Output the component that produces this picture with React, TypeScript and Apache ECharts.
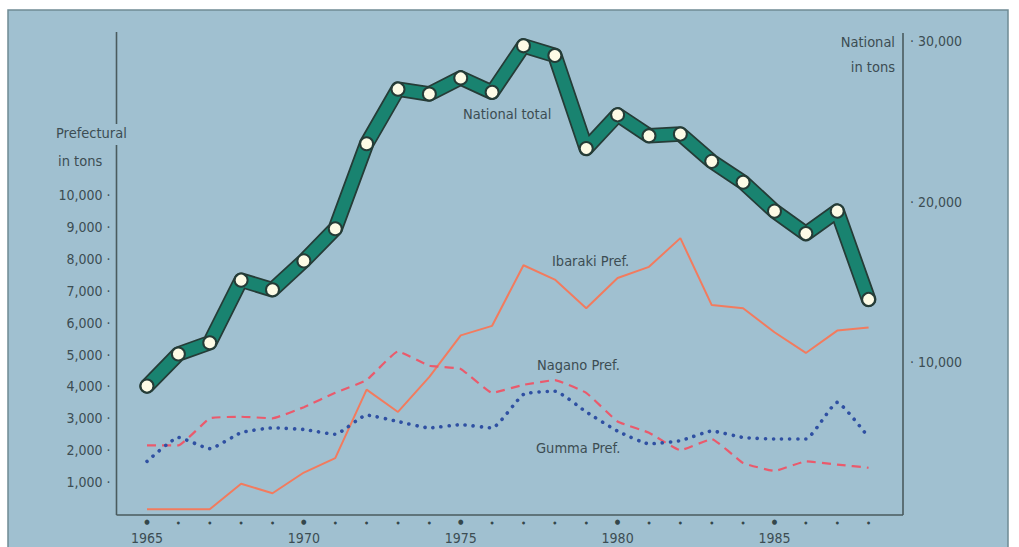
import React, { useEffect, useRef } from "react";
import * as echarts from "echarts";

const years = [1965, 1966, 1967, 1968, 1969, 1970, 1971, 1972, 1973, 1974, 1975, 1976, 1977, 1978, 1979, 1980, 1981, 1982, 1983, 1984, 1985, 1986, 1987, 1988];
const nationalTotal = [8500, 10500, 11200, 15100, 14500, 16300, 18300, 23600, 27000, 26700, 27700, 26800, 29700, 29100, 23300, 25400, 24100, 24200, 22500, 21200, 19400, 18000, 19400, 13900];
const ibaraki = [150, 150, 150, 950, 650, 1300, 1750, 3900, 3200, 4300, 5600, 5900, 7800, 7350, 6450, 7400, 7750, 8650, 6550, 6450, 5700, 5050, 5750, 5850];
const nagano = [2150, 2150, 3000, 3050, 3000, 3350, 3800, 4200, 5100, 4650, 4550, 3800, 4050, 4200, 3800, 2900, 2550, 2000, 2350, 1600, 1350, 1650, 1550, 1450];
const gumma = [1650, 2400, 2050, 2550, 2700, 2650, 2500, 3100, 2900, 2700, 2800, 2700, 3750, 3850, 3200, 2600, 2200, 2300, 2600, 2400, 2350, 2350, 3500, 2400];
const leftTicks = [1000, 2000, 3000, 4000, 5000, 6000, 7000, 8000, 9000, 10000];
const rightTicks = [10000, 20000, 30000];
const labeledYears = [1965, 1970, 1975, 1980, 1985];

const FONT = "'Liberation Sans Narrow', 'DejaVu Sans Condensed', 'Roboto Condensed', Roboto, sans-serif";
const TEXT = "#3c4d53";
const AXIS = "#4a5b5e";

const pair = (vals: number[]) => years.map((y, i) => [y, vals[i]]);
const fmt = (v: number) => v.toLocaleString("en-US");

export default function App() {
  const ref = useRef<HTMLDivElement>(null);
  useEffect(() => {
    document.body.style.margin = "0";
    const chart = echarts.init(ref.current!, undefined, { renderer: "svg" });
    const xCommon = {
      type: "value" as const,
      min: 1965,
      max: 1988,
      interval: 1,
      axisLine: { show: false },
      axisTick: { show: false },
      splitLine: { show: false },
    };
    const txt = (text: string, x: number, y: number, align: string = "left") => ({
      type: "text",
      x,
      y,
      style: { text, fill: TEXT, fontSize: 14.5, fontFamily: FONT, align, verticalAlign: "middle" },
    });
    chart.setOption({
      animation: false,
      backgroundColor: "#ffffff",
      grid: [
        { left: 147, right: 150.4, top: 67.5, bottom: 33 },
        { left: 147, right: 150.4, top: 41, bottom: 24.5 },
      ],
      xAxis: [
        {
          ...xCommon,
          gridIndex: 0,
          axisLabel: {
            margin: 3,
            formatter: (v: number) =>
              labeledYears.includes(v) ? `{b|●}\n{y|${v}}` : `{s|●}`,
            rich: {
              b: { fontSize: 7, lineHeight: 10, color: "#34474b", fontFamily: FONT },
              s: { fontSize: 4, lineHeight: 10, color: "#34474b", fontFamily: FONT },
              y: { fontSize: 14, lineHeight: 21, color: TEXT, fontFamily: FONT },
            },
          },
        },
        { ...xCommon, gridIndex: 1, axisLabel: { show: false } },
      ],
      yAxis: [
        {
          type: "value",
          gridIndex: 0,
          position: "left",
          offset: 30.5,
          min: 0,
          max: 14000,
          interval: 1000,
          axisLine: { show: false },
          axisTick: { show: false },
          splitLine: { show: false },
          axisLabel: {
            margin: 6,
            color: TEXT,
            fontSize: 14,
            fontFamily: FONT,
            formatter: (v: number) => (leftTicks.includes(v) ? `${fmt(v)} ·` : ""),
          },
        },
        {
          type: "value",
          gridIndex: 1,
          position: "right",
          offset: 34.4,
          min: 0,
          max: 30000,
          interval: 10000,
          axisLine: { show: false },
          axisTick: { show: false },
          splitLine: { show: false },
          axisLabel: {
            margin: 7,
            color: TEXT,
            fontSize: 14,
            fontFamily: FONT,
            formatter: (v: number) => (rightTicks.includes(v) ? `· ${fmt(v)}` : ""),
          },
        },
      ],
      graphic: [
        { type: "rect", z: -10, shape: { x: 8, y: 10, width: 1000, height: 545 }, style: { fill: "#a0c0d0", stroke: "#6f8a94", lineWidth: 1.5 } },
        { type: "line", shape: { x1: 116.5, y1: 32, x2: 116.5, y2: 124 }, style: { stroke: AXIS, lineWidth: 1.6 } },
        { type: "line", shape: { x1: 116.5, y1: 145, x2: 116.5, y2: 515 }, style: { stroke: AXIS, lineWidth: 1.6 } },
        { type: "line", shape: { x1: 116.5, y1: 515, x2: 903, y2: 515 }, style: { stroke: AXIS, lineWidth: 1.6 } },
        { type: "line", shape: { x1: 903, y1: 33, x2: 903, y2: 515 }, style: { stroke: AXIS, lineWidth: 1.6 } },
        txt("Prefectural", 56, 133),
        txt("in tons", 58, 161),
        txt("National", 895, 42, "right"),
        txt("in tons", 895, 67, "right"),
        txt("National total", 463, 114),
        txt("Ibaraki Pref.", 552, 261),
        txt("Nagano Pref.", 537, 365),
        txt("Gumma Pref.", 536, 448),
      ],
      series: [
        {
          name: "Ibaraki Pref.",
          type: "line",
          xAxisIndex: 0,
          yAxisIndex: 0,
          data: pair(ibaraki),
          showSymbol: false,
          lineStyle: { color: "#f27b5e", width: 2 },
        },
        {
          name: "Nagano Pref.",
          type: "line",
          xAxisIndex: 0,
          yAxisIndex: 0,
          data: pair(nagano),
          showSymbol: false,
          smooth: 0.1,
          lineStyle: { color: "#ea5a6c", width: 2.2, type: [9, 6] },
        },
        {
          name: "Gumma Pref.",
          type: "line",
          xAxisIndex: 0,
          yAxisIndex: 0,
          data: pair(gumma),
          showSymbol: false,
          smooth: 0.15,
          lineStyle: { color: "#2f50a2", width: 3.6, type: [0.1, 8], cap: "round" },
        },
        {
          name: "National total outline",
          type: "line",
          xAxisIndex: 1,
          yAxisIndex: 1,
          data: pair(nationalTotal),
          showSymbol: false,
          silent: true,
          lineStyle: { color: "#253c37", width: 15.5, join: "round", cap: "round" },
        },
        {
          name: "National total",
          type: "line",
          xAxisIndex: 1,
          yAxisIndex: 1,
          data: pair(nationalTotal),
          symbol: "circle",
          symbolSize: 13,
          showSymbol: true,
          itemStyle: { color: "#fdfbe6", borderColor: "#253c37", borderWidth: 2 },
          lineStyle: { color: "#198370", width: 12, join: "round", cap: "round" },
        },
      ],
    });
    return () => chart.dispose();
  }, []);
  return <div ref={ref} style={{ width: 1019, height: 547 }} />;
}
